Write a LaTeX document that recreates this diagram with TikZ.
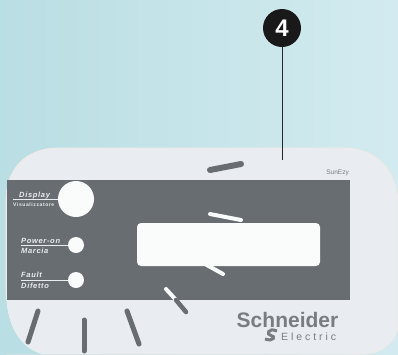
\documentclass[tikz,border=0pt]{standalone}
\usepackage{fontspec}
\setmainfont{Liberation Sans}
\newfontfamily\lblfont[LetterSpace=9]{Liberation Sans}
\newfontfamily\smallfont[LetterSpace=12]{Liberation Sans}
\newfontfamily\elfont[LetterSpace=28]{Liberation Sans}
\definecolor{bgl}{HTML}{B9DEE3}
\definecolor{bgr}{HTML}{D3EBF0}
\definecolor{panel}{HTML}{E9EDF1}
\definecolor{edge}{HTML}{F3E9E2}
\definecolor{slate}{HTML}{676D71}
\definecolor{logo}{HTML}{777D81}
\definecolor{cream}{HTML}{FAFBFB}
\tikzset{
  darkbar/.style={draw=slate,line width=5pt,line cap=round},
  lightbar/.style={draw=cream,line width=4pt,line cap=round},
  lamp/.style={circle,fill=cream,draw=none,inner sep=0pt},
  lbl/.style={inner sep=0pt,anchor=base west,text=panel,font=\lblfont\bfseries\itshape\fontsize{7.5}{8}\selectfont},
  rule/.style={draw=panel,line width=.7pt},
}
\begin{document}
\begin{tikzpicture}[x=1pt,y=-1pt]
\useasboundingbox (0,0) rectangle (398,354);
\shade[left color=bgl,right color=bgr] (0,0) rectangle (398,354);
% panel
\fill[panel,draw=edge,line width=.8pt] (6,354) -- (6,200) .. controls (6,170) and (25,148) .. (58,148)
  -- (345,148) .. controls (375,148) and (398,170) .. (398,205) -- (398,325) .. controls (398,338) and (385,354) .. (362,354) -- cycle;
\fill[bgl] (0,354) -- (6,290) .. controls (6,325) and (20,348) .. (42,354) -- cycle;
\fill[panel] (6,290) .. controls (6,325) and (20,348) .. (42,354) -- (100,354) -- (100,290) -- cycle;
% grey plate
\fill[slate] (7,180) rectangle (350,300);
% display
\fill[cream,rounded corners=4pt] (137,223) rectangle (320,266);
% lamps
\node[lamp,minimum size=36pt] (disp) at (76,199) {};
\node[lamp,minimum size=16pt] (pow) at (76,245) {};
\node[lamp,minimum size=16pt] (flt) at (76,280) {};
% labels
\coordinate (dl) at (13,199);
\coordinate (pl) at (21,245);
\coordinate (fl) at (21,280);
\draw[rule] (dl) -- (disp);
\draw[rule] (pl) -- (pow);
\draw[rule] (fl) -- (flt);
\node[lbl] (t1) at (19,197) {Display};
\node[lbl,font=\smallfont\bfseries\fontsize{5}{6}\selectfont] (t2) at (13,206) {Visualizzatore};
\node[lbl] (t3) at (21,243) {Power-on};
\node[lbl] (t4) at (21,253) {Marcia};
\node[lbl] (t5) at (21,277) {Fault};
\node[lbl] (t6) at (21,288) {Difetto};
% bars
\draw[darkbar,line width=6pt] (210,170) -- (241,164);
\draw[lightbar] (210,214) -- (241,220);
\draw[lightbar] (205,264) -- (223,274);
\draw[lightbar] (166,289) -- (176,300);
\draw[darkbar,line width=4.5pt] (176,300) -- (186,312);
\draw[darkbar] (38,311) -- (28,342);
\draw[darkbar] (84,320) -- (84,351);
\draw[darkbar] (127,311) -- (139,344);
% text
\node[inner sep=0pt,anchor=base east,text=logo,font=\fontsize{6.5}{7}\selectfont] (sun) at (349,174) {SunEzy};
\node[inner sep=0pt,anchor=base,text=logo,font=\bfseries\fontsize{21}{22}\selectfont] (sch) at (287.5,327.5) {Schneider};
\node[inner sep=0pt,anchor=base west,text=logo,font=\elfont\fontsize{10.5}{11}\selectfont] (el) at (281,340) {Electric};
\draw[logo,line width=3pt] (277,331) .. controls (268,327) and (266,335) .. (271,335.5) .. controls (276,336) and (274,342) .. (265,339);
% callout
\node[circle,fill=black!90,text=white,inner sep=0pt,minimum size=38pt,font=\bfseries\fontsize{24}{24}\selectfont] (four) at (282,28) {4};
\coordinate (tip) at (282,160);
\draw[black!85,line width=.9pt] (four) -- (tip);
\end{tikzpicture}
\end{document}
